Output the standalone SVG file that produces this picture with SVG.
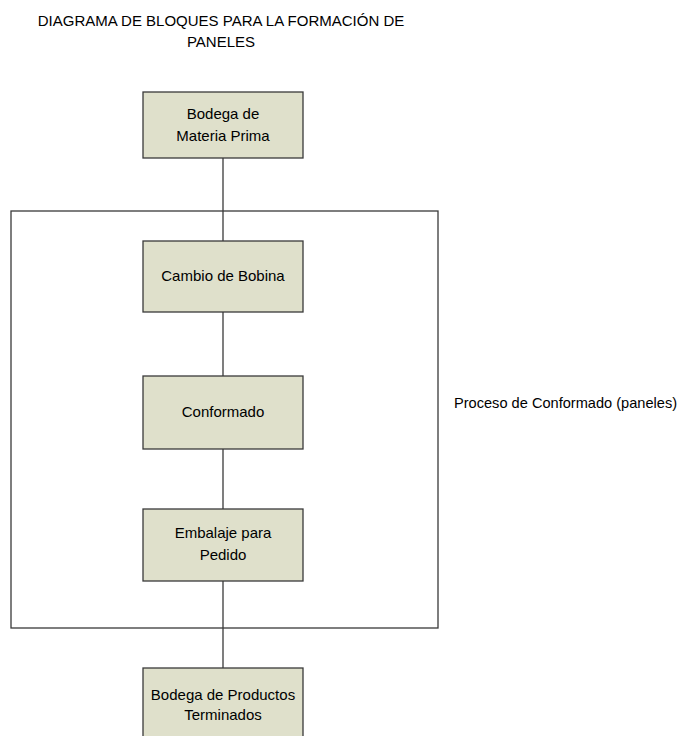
<svg xmlns="http://www.w3.org/2000/svg" width="687" height="736" viewBox="0 0 687 736">
<style>
text{font-family:"Liberation Sans",Arial,sans-serif;fill:#000;}
.t{font-size:15px;text-anchor:middle;}
.n{font-size:15px;text-anchor:middle;}
.box{fill:#dfe0cb;stroke:#3a3a3a;stroke-width:1.3;}
.ln{stroke:#3a3a3a;stroke-width:1.3;fill:none;}
</style>
<rect width="687" height="736" fill="#fff"/>
<g id="title">
<text class="t" x="221" y="26">DIAGRAMA DE BLOQUES PARA LA FORMACIÓN DE</text>
<text class="t" x="221" y="47">PANELES</text>
</g>
<g id="connectors">
<line class="ln" x1="223" y1="158" x2="223" y2="241"/>
<line class="ln" x1="223" y1="312" x2="223" y2="376"/>
<line class="ln" x1="223" y1="449" x2="223" y2="509"/>
<line class="ln" x1="223" y1="581" x2="223" y2="668"/>
</g>
<g id="proceso">
<rect class="ln" x="11" y="211" width="427" height="417"/>
<text style="font-size:14.6px" x="454" y="408">Proceso de Conformado (paneles)</text>
</g>
<g id="bodega-mp">
<rect class="box" x="143" y="92" width="160" height="66"/>
<text class="n" x="223" y="119">Bodega de</text>
<text class="n" x="223" y="141">Materia Prima</text>
</g>
<g id="cambio">
<rect class="box" x="143" y="241" width="160" height="71"/>
<text class="n" x="223" y="281">Cambio de Bobina</text>
</g>
<g id="conformado">
<rect class="box" x="143" y="376" width="160" height="73"/>
<text class="n" x="223" y="417">Conformado</text>
</g>
<g id="embalaje">
<rect class="box" x="143" y="509" width="160" height="72"/>
<text class="n" x="223" y="538">Embalaje para</text>
<text class="n" x="223" y="560">Pedido</text>
</g>
<g id="bodega-pt">
<rect class="box" x="143" y="668" width="160" height="72"/>
<text class="n" x="223" y="700">Bodega de Productos</text>
<text class="n" x="223" y="720">Terminados</text>
</g>
</svg>
